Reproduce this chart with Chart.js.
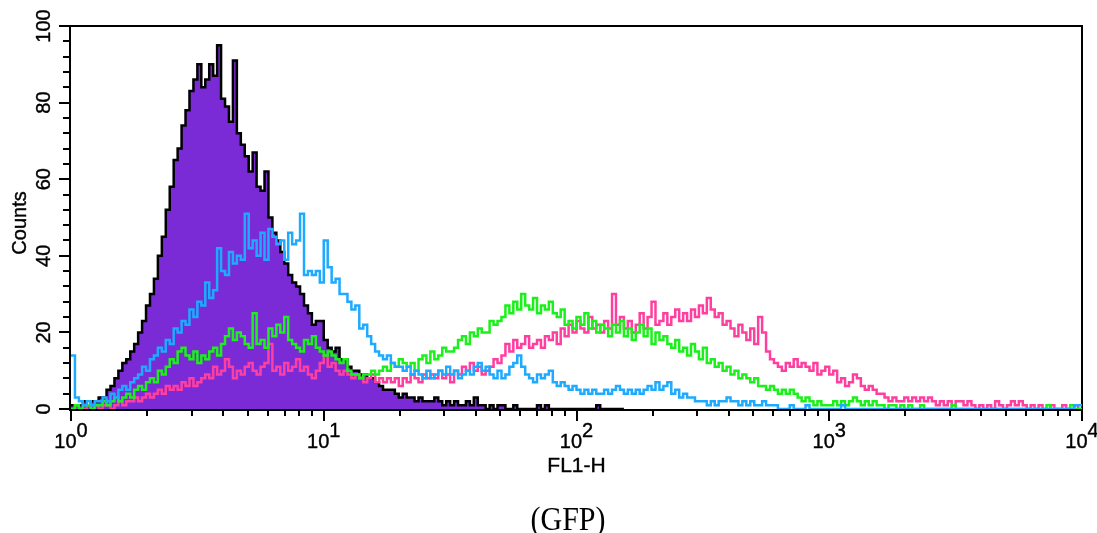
<!DOCTYPE html>
<html>
<head>
<meta charset="utf-8">
<script src="https://cdn.jsdelivr.net/npm/chart.js@4"></script>
<style>
  html, body { margin: 0; padding: 0; background: #fff; }
  canvas { display: block; }
</style>
</head>
<body>
<canvas id="chart" width="1097" height="533"></canvas>
<script>
// FL1-H histograms, 64 channels per decade from 10^0 to 10^4
const channelsPerDecade = 64;

// filled control (purple, black outline)
const control = [
  1,1,1,2,1,2,2,3,3,5,
  6,8,10,12,13,15,17,20,23,27,
  30,34,40,45,52,58,65,68,74,78,
  83,86,90,84,86,90,87,95,81,79,
  75,91,72,69,66,62,67,58,57,62,
  50,46,44,41,38,35,33,32,30,27,
  25,22,23,23,18,16,15,16,13,13,
  11,10,10,9,9,8,8,7,6,5,
  5,5,4,3,4,3,3,2,3,2,
  2,2,3,2,1,2,1,2,1,1,
  2,1,3,1,1,0,1,0,1,1,
  0,0,1,0,0,0,0,0,1,0,
  1,0,0,0,0,0,0,0,0,0,
  0,0,0,1,0,0,0,0,0,0
];

const blue = [
  14,3,2,1,2,1,2,2,3,2,
  4,3,5,6,5,7,8,9,11,10,
  13,14,16,15,18,17,21,20,23,22,
  26,24,28,27,33,29,31,42,36,35,
  41,38,40,39,51,42,44,40,46,39,
  47,45,43,44,39,46,43,44,51,35,
  36,35,36,33,44,37,33,34,30,30,
  28,26,27,21,22,19,17,15,14,13,
  14,12,11,11,10,11,9,10,9,8,
  10,8,9,10,9,11,9,10,8,9,
  10,9,11,12,10,11,9,8,10,8,
  9,11,12,14,11,9,8,7,9,8,
  9,10,7,6,7,6,5,6,5,4,
  5,4,5,4,4,5,4,5,6,5,
  4,5,4,5,4,5,6,5,7,5,
  6,7,4,5,3,4,3,3,2,2,
  2,1,2,1,2,2,3,2,2,1,
  2,1,2,1,1,2,1,1,1,0,
  0,0,1,0,0,0,1,0,0,0,
  0,0,0,0,0,1,0,0,0,0,
  0,0,0,0,0,0,0,0,0,0,
  0,0,0,0,0,0,0,0,0,0,
  0,0,0,0,0,0,0,0,0,0,
  0,0,0,0,0,0,0,0,0,0,
  0,0,0,0,0,0,0,0,0,0,
  0,0,0,0,1,1
];

const green = [
  0,1,0,1,1,0,1,1,2,1,
  2,3,2,3,4,3,5,6,5,7,
  8,7,10,9,11,13,12,15,16,14,
  13,15,12,14,13,15,16,14,17,19,
  21,18,20,19,17,16,25,17,18,16,
  21,19,22,20,24,18,17,16,15,18,
  17,19,16,15,14,15,14,13,12,13,
  10,9,9,8,9,9,10,9,10,11,
  10,12,11,13,12,11,12,10,13,14,
  12,15,13,14,16,15,15,16,18,19,
  17,20,19,21,20,20,23,22,23,24,
  27,25,28,26,30,27,26,29,25,27,
  26,28,25,24,26,22,23,21,24,22,
  25,21,23,20,22,21,19,22,20,23,
  19,21,18,20,22,19,21,17,20,18,
  19,17,16,18,15,16,14,17,15,13,
  16,12,13,11,12,10,11,9,10,8,
  9,8,7,8,6,6,5,6,5,4,
  5,4,5,4,3,2,3,2,1,2,
  1,1,1,2,1,2,1,2,3,2,
  1,2,1,2,1,1,0,1,1,0,
  1,0,1,0,0,1,0,0,0,0,
  0,0,0,1,0,0,0,0,0,0,
  0,0,0,0,0,0,0,0,0,0,
  0,0,0,0,0,0,0,1,0,0,
  0,0,0,1,0,0
];

const pink = [
  0,1,0,0,1,0,1,0,1,1,
  0,1,2,1,2,2,3,2,3,4,
  3,4,5,4,6,5,6,5,7,6,
  8,6,7,8,9,8,11,9,10,13,
  11,8,10,9,11,12,10,9,11,12,
  17,10,11,9,12,10,11,13,10,11,
  9,8,10,12,14,11,12,10,9,10,
  9,8,9,8,7,8,9,7,8,7,
  8,7,8,6,8,7,9,8,7,9,
  8,9,8,10,8,9,7,10,9,11,
  10,12,10,11,9,10,11,13,12,14,
  17,15,18,16,17,19,16,17,18,16,
  19,18,20,17,21,19,22,20,23,21,
  20,24,21,22,20,23,21,30,22,24,
  21,23,20,22,25,21,24,28,22,23,
  25,22,24,26,23,25,23,26,24,27,
  25,29,26,24,25,22,23,21,19,22,
  20,18,21,17,24,20,15,13,12,11,
  10,12,11,13,11,12,11,10,12,9,
  10,11,9,10,7,8,6,7,9,8,
  6,5,6,5,4,4,3,2,3,2,
  2,3,2,3,2,3,2,3,2,1,
  2,1,2,1,2,2,1,2,1,0,
  1,0,1,0,2,1,0,1,2,1,
  2,1,0,1,0,1,0,0,1,0,
  0,1,0,0,1,0
];

const xDecades = [0, 1, 2, 3, 4];
const yTicks = [0, 20, 40, 60, 80, 100];
const xTitle = 'FL1-H';
const yTitle = 'Counts';
const caption = '(GFP)';

// channel i starts at 10^(i/64); stepped line holds each count across its channel
function toPoints(arr) {
  const pts = arr.map((v, i) => ({ x: Math.pow(10, i / channelsPerDecade), y: v }));
  pts.push({ x: Math.pow(10, arr.length / channelsPerDecade), y: arr[arr.length - 1] });
  return pts;
}

const sansFont = '"Liberation Sans", Arial, sans-serif';

// text drawn slightly heavier, like the scanned original
function heavyText(ctx, str, x, y) {
  ctx.fillText(str, x, y);
  ctx.strokeText(str, x, y);
}

const axesFrame = {
  id: 'axesFrame',
  beforeDatasetsDraw(chart) {
    const { ctx, scales: { x, y } } = chart;
    const left = Math.round(x.getPixelForValue(1)) - 1;
    const right = Math.round(x.getPixelForValue(10000));
    const top = Math.round(y.getPixelForValue(100));
    const bottom = Math.round(y.getPixelForValue(0)) + 1;
    ctx.save();
    ctx.strokeStyle = '#000';
    ctx.lineWidth = 2;
    ctx.strokeRect(left, top, right - left, bottom - top);

    ctx.beginPath();
    for (let v = 0; v <= 100; v += 4) {
      const py = Math.round(y.getPixelForValue(v));
      const len = v % 20 === 0 ? 11 : 7;
      ctx.moveTo(left - len, py);
      ctx.lineTo(left, py);
    }
    for (let d = 0; d < 4; d++) {
      for (let m = 1; m <= 9; m++) {
        const px = Math.round(x.getPixelForValue(m * Math.pow(10, d)));
        const len = m === 1 ? 11 : 6;
        ctx.moveTo(px, bottom);
        ctx.lineTo(px, bottom + len);
      }
    }
    const pxEnd = Math.round(x.getPixelForValue(10000));
    ctx.moveTo(pxEnd, bottom);
    ctx.lineTo(pxEnd, bottom + 11);
    ctx.stroke();
    ctx.restore();
  },
  afterDraw(chart) {
    const { ctx, chartArea: a, scales: { x, y } } = chart;
    ctx.save();
    ctx.fillStyle = '#000';
    ctx.strokeStyle = '#000';
    ctx.lineWidth = 0.4;

    // y tick labels, rotated
    ctx.font = '20px ' + sansFont;
    ctx.textAlign = 'center';
    ctx.textBaseline = 'alphabetic';
    yTicks.forEach(v => {
      ctx.save();
      ctx.translate(50, y.getPixelForValue(v));
      ctx.rotate(-Math.PI / 2);
      heavyText(ctx, String(v), 0, 0);
      ctx.restore();
    });

    ctx.save();
    ctx.translate(26, 223);
    ctx.rotate(-Math.PI / 2);
    heavyText(ctx, yTitle, 0, 0);
    ctx.restore();

    // x tick labels 10^n
    ctx.textAlign = 'left';
    xDecades.forEach(d => {
      const px = x.getPixelForValue(Math.pow(10, d));
      ctx.font = '20px ' + sansFont;
      const w1 = ctx.measureText('10').width;
      ctx.font = '20px ' + sansFont;
      const w2 = ctx.measureText(String(d)).width;
      const start = px - (w1 + w2) / 2;
      heavyText(ctx, '10', start, 448);
      heavyText(ctx, String(d), start + w1, 437);
    });

    ctx.textAlign = 'center';
    ctx.font = '21px ' + sansFont;
    heavyText(ctx, xTitle, (a.left + a.right) / 2, 472);

    ctx.save();
    ctx.translate(568, 530);
    ctx.scale(1, 1.12);
    ctx.font = '30px "Liberation Serif", "Times New Roman", serif';
    ctx.fillText(caption, 0, 0);
    ctx.restore();
    ctx.restore();
  }
};

const lineStyle = {
  stepped: 'before',
  pointRadius: 0,
  borderWidth: 2.5,
  fill: false,
  tension: 0
};

new Chart(document.getElementById('chart'), {
  type: 'line',
  data: {
    datasets: [
      { ...lineStyle, data: toPoints(control), borderColor: '#000', backgroundColor: '#7b2bd6', fill: 'origin' },
      { ...lineStyle, data: toPoints(pink), borderColor: '#ff3fa0' },
      { ...lineStyle, data: toPoints(green), borderColor: '#1cf01c' },
      { ...lineStyle, data: toPoints(blue), borderColor: '#1eaaff' }
    ].reverse().map((ds, i) => ({ ...ds, order: i }))
  },
  options: {
    responsive: false,
    animation: false,
    layout: { padding: { left: 71, right: 15, top: 26, bottom: 124 } },
    scales: {
      x: { type: 'logarithmic', min: 1, max: 10000, display: false },
      y: { type: 'linear', min: 0, max: 100, display: false }
    },
    plugins: { legend: { display: false }, tooltip: { enabled: false } }
  },
  plugins: [axesFrame]
});
</script>
</body>
</html>
